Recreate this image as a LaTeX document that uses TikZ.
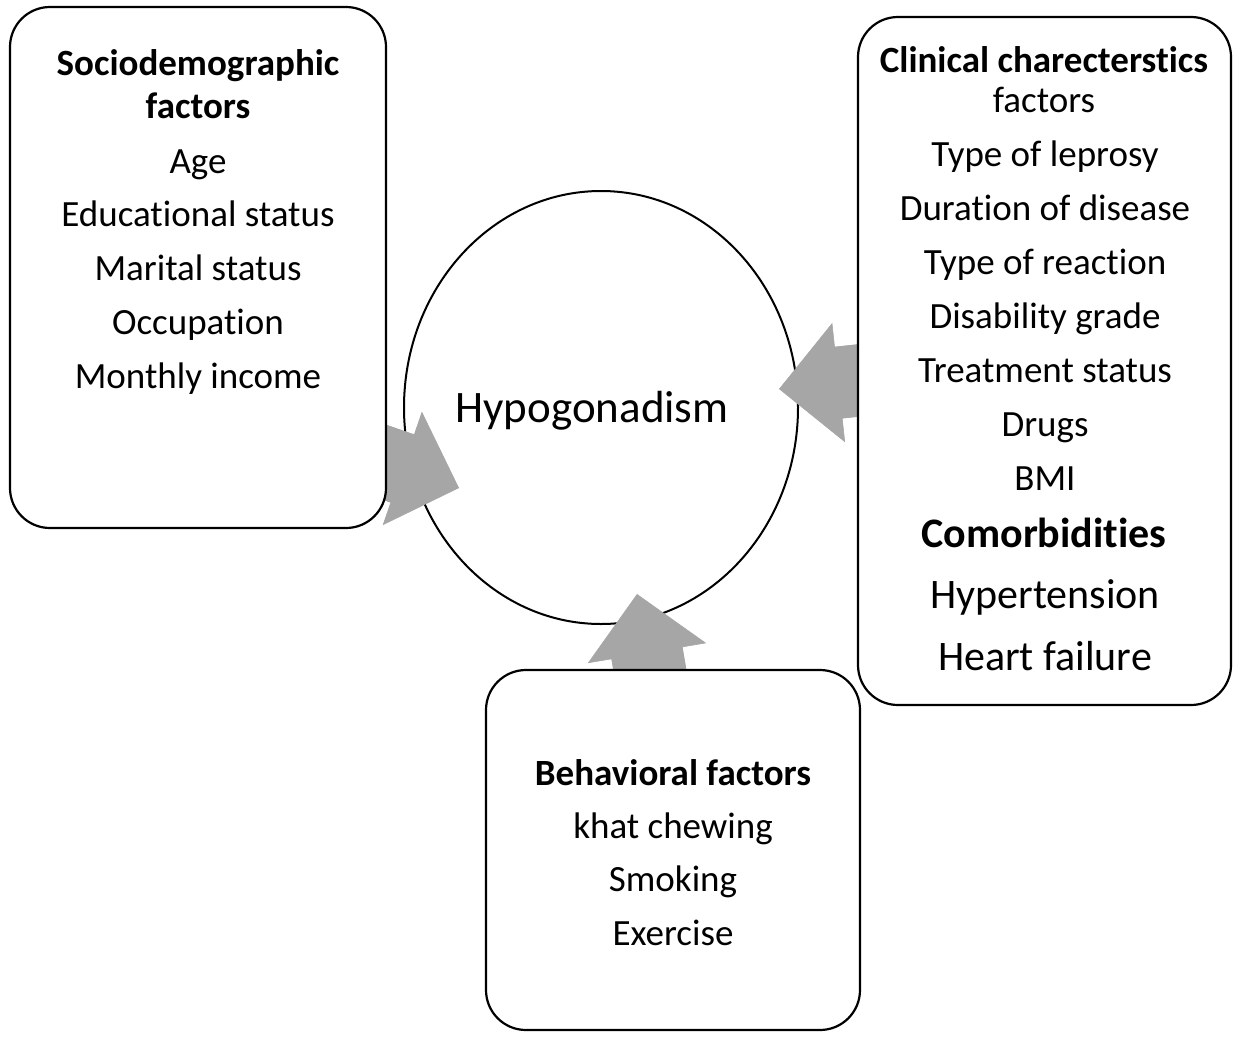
\documentclass[tikz,border=0pt]{standalone}
\usepackage{fontspec}
\setmainfont{Carlito}[Ligatures={NoCommon, NoContextual}, RawFeature={-liga;-clig;-calt;-dlig}]
\usepackage{tikz}
\usepackage{xcolor}
\usetikzlibrary{shapes.geometric, arrows.meta, positioning, calc}
\definecolor{arrowgray}{RGB}{166,166,166}
\tikzstyle{factorbox} = [rectangle, draw, line width=2.2pt, fill=white, rounded corners=40pt, inner sep=0pt]
\tikzstyle{head} = [anchor=base, inner sep=0pt, font=\fontsize{37}{44}\selectfont\bfseries]
\tikzstyle{item} = [anchor=base, inner sep=0pt, font=\fontsize{37}{44}\selectfont]
\tikzstyle{bigitem} = [anchor=base, inner sep=0pt, font=\fontsize{42}{50}\selectfont]
\tikzstyle{bigarrow} = [line width=72pt, color=arrowgray, -{Triangle[length=60pt, width=120pt, line width=0.6pt]}]
\tikzstyle{bigshaft} = [line width=72pt, color=arrowgray]

\begin{document}
\begin{tikzpicture}[x=1pt, y=-1pt]
    \useasboundingbox (0,0) rectangle (1234,1036);

    % Central outcome
    \node[ellipse, draw, line width=2pt, minimum width=394pt, minimum height=433pt, inner sep=0pt] (hypo) at (601,407.5) {};
    \node[anchor=base, inner sep=0pt, font=\fontsize{45}{54}\selectfont] (hypo-label) at (592,422) {Hypogonadism};

    % Arrows into the ellipse
    \coordinate (socio-from) at (317,439);
    \coordinate (socio-to) at (459,488);
    \coordinate (clin-from) at (928,373);
    \coordinate (clin-to) at (779,389);
    \coordinate (behav-from) at (662,742);
    \coordinate (behav-to) at (637,594);
    \foreach \a in {socio, clin, behav} {
        \draw[bigarrow] (\a-from) -- (\a-to);
        \draw[bigshaft] (\a-from) -- ($(\a-to)!56pt!(\a-from)$); % closes the seam
    }

    % Sociodemographic box
    \node[factorbox, minimum width=376pt, minimum height=521pt] (socio) at (198,267.5) {};
    \node[head] (socio-h1) at (198,75) {Sociodemographic};
    \node[head] (socio-h2) at (198,118) {factors};
    \foreach \txt [count=\i] in {Age, Educational status, Marital status, Occupation, Monthly income}
        \node[item] (socio-\i) at (198,{173+53.75*(\i-1)}) {\txt};

    % Clinical box
    \node[factorbox, minimum width=373pt, minimum height=688pt] (clin) at (1044.5,361) {};
    \node[head] (clin-h1) at (1044,72) {Clinical charecterstics};
    \node[item] (clin-h2) at (1044,112) {factors};
    \foreach \txt [count=\i] in {Type of leprosy, Duration of disease, Type of reaction, Disability grade, Treatment status, Drugs, BMI}
        \node[item] (clin-\i) at (1045,{166+54*(\i-1)}) {\txt};
    \node[bigitem, font=\fontsize{42}{50}\selectfont\bfseries] (comorb) at (1044,547) {Comorbidities};
    \node[bigitem] (comorb-1) at (1045,608) {Hypertension};
    \node[bigitem] (comorb-2) at (1045,670) {Heart failure};

    % Behavioral box
    \node[factorbox, minimum width=374pt, minimum height=360pt] (behav) at (673,850) {};
    \node[head] (behav-h) at (673,785) {Behavioral factors};
    \foreach \txt [count=\i] in {khat chewing, Smoking, Exercise}
        \node[item] (behav-\i) at (673,{838+53.5*(\i-1)}) {\txt};
\end{tikzpicture}
\end{document}
